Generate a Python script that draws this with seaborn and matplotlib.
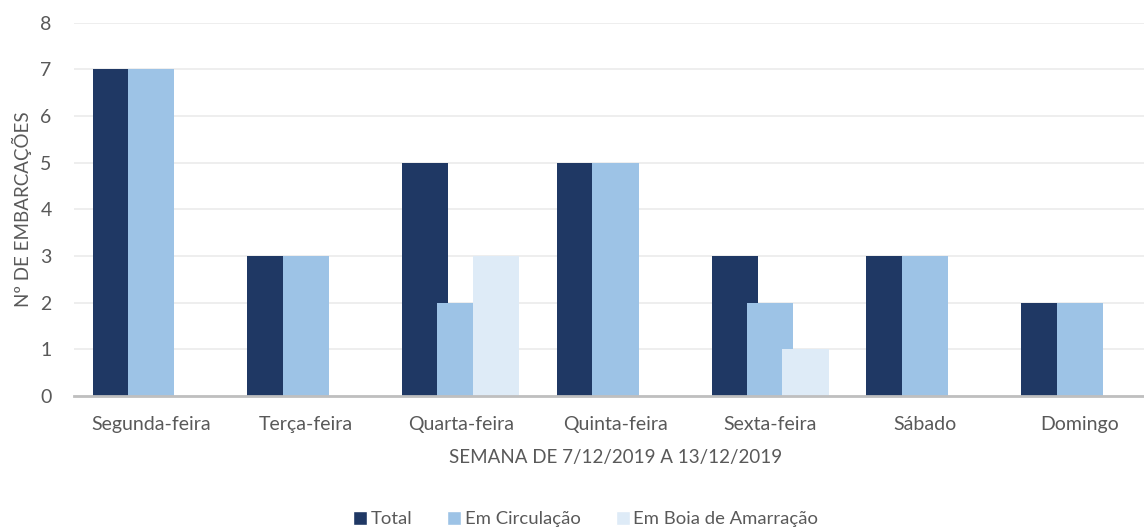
"""Weekly vessel counts by status, grouped bars."""

import matplotlib.pyplot as plt
import pandas as pd
import seaborn as sns


DAYS = ["Segunda-feira", "Terça-feira", "Quarta-feira", "Quinta-feira",
        "Sexta-feira", "Sábado", "Domingo"]
SERIES = ["Total", "Em Circulação", "Em Boia de Amarração"]
TOTAL = [7, 3, 5, 5, 3, 3, 2]
EM_CIRCULACAO = [7, 3, 2, 5, 2, 3, 2]
EM_BOIA = [0, 0, 3, 0, 1, 0, 0]
COLORS = ["#1F3864", "#9DC3E6", "#DEEBF7"]
TEXT_COLOR = "#595959"


def build_frame():
    rows = []
    for name, values in zip(SERIES, [TOTAL, EM_CIRCULACAO, EM_BOIA]):
        for day, value in zip(DAYS, values):
            rows.append({"dia": day, "serie": name, "valor": value})
    return pd.DataFrame(rows)


def main():
    sns.set_theme(style="white")
    plt.rcParams["font.family"] = ["Lato", "DejaVu Sans"]

    data = build_frame()
    figure = plt.figure(figsize=(11.44, 5.31), dpi=100)
    # axes run slightly past the right edge, as in the source
    ax = figure.add_axes([0.0645, 0.254, 0.947, 0.703])

    sns.barplot(
        data=data, x="dia", y="valor", hue="serie",
        order=DAYS, hue_order=SERIES, palette=COLORS,
        width=0.687, saturation=1, errorbar=None, ax=ax, legend=True,
    )

    # widen bars so neighbours overlap a little
    bar_width = 0.30
    for patch in ax.patches:
        if patch.get_width() == 0:
            continue
        center = patch.get_x() + patch.get_width() / 2
        patch.set_x(center - bar_width / 2)
        patch.set_width(bar_width)
        patch.set_linewidth(0)

    ax.set_ylim(0, 8)
    ax.set_xlim(-0.5, 6.5)
    ax.set_yticks(range(9))
    ax.yaxis.grid(True, color="#ebebeb", linewidth=1.2)
    ax.set_axisbelow(True)
    for side in ["left", "right", "top"]:
        ax.spines[side].set_visible(False)
    ax.spines["bottom"].set_color("#bfbfbf")
    ax.spines["bottom"].set_linewidth(2)

    ax.tick_params(axis="both", length=0, labelsize=14, colors=TEXT_COLOR)
    ax.tick_params(axis="x", pad=14)
    ax.tick_params(axis="y", pad=16)
    ax.set_xlabel("SEMANA DE 7/12/2019 A 13/12/2019", fontsize=13.5,
                  color=TEXT_COLOR, labelpad=12)
    ax.set_ylabel("Nº DE EMBARCAÇÕES", fontsize=13.5, color=TEXT_COLOR, labelpad=6)

    handles, labels = ax.get_legend_handles_labels()
    ax.legend(
        handles, labels, loc="center", bbox_to_anchor=(0.512, 0.022),
        bbox_transform=figure.transFigure,
        ncol=3, frameon=False, fontsize=13.3, labelcolor=TEXT_COLOR,
        handlelength=0.75, handleheight=0.75, handletextpad=0.2, columnspacing=1.9,
    )

    figure.savefig("out.png", dpi=100)
    plt.close(figure)


if __name__ == "__main__":
    main()
